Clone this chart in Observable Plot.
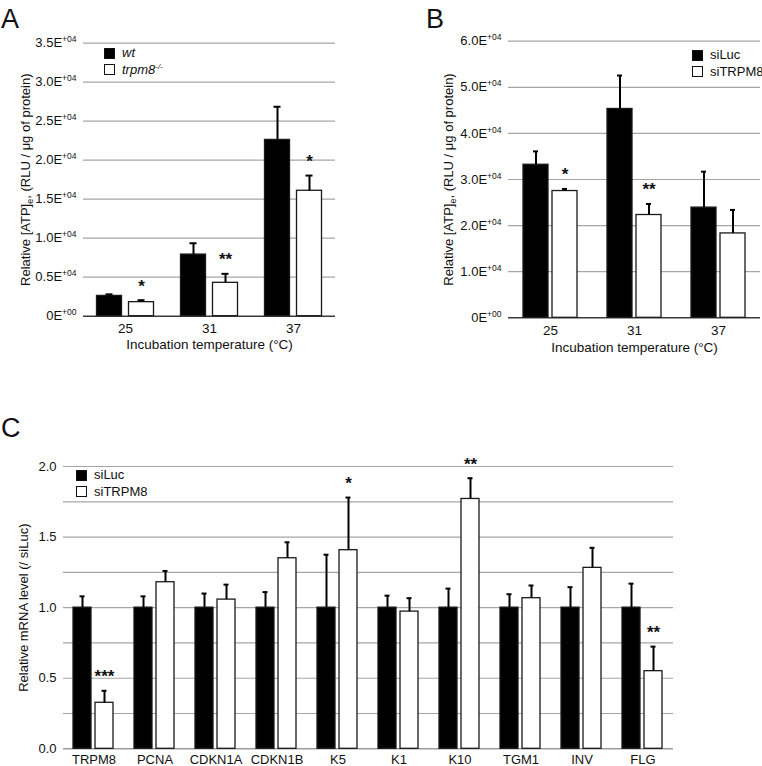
<!DOCTYPE html>
<html>
<head>
<meta charset="utf-8">
<script src="https://cdn.jsdelivr.net/npm/d3@7"></script>
<script src="https://cdn.jsdelivr.net/npm/@observablehq/plot@0.6"></script>
<style>
  body { margin: 0; background: #fff; font-family: "Liberation Sans", Arial, Helvetica, sans-serif; color: #111; }
  #root { position: relative; width: 762px; height: 766px; overflow: hidden; }
  .panel { position: absolute; }
  .letter { position: absolute; font-size: 27px; line-height: 1; }
  .legend { position: absolute; font-size: 13px; line-height: 16.5px; z-index: 2; }
  .legend .row { display: flex; align-items: center; height: 16.5px; white-space: nowrap; }
  .sw { box-sizing: border-box; width: 11px; height: 11px; border: 1px solid #111; margin-right: 7px; }
  .sw.black { background: #000; }
  .sw.white { background: #fff; }
  .legend sup { font-size: 8px; vertical-align: 5px; line-height: 0; }
</style>
</head>
<body>
<div id="root"></div>
<script>
const FONT = '"Liberation Sans", Arial, Helvetica, sans-serif';

// ---------- Panel A data ----------
const tempLabels = ["25", "31", "37"];
const genotypeGroups = ["wt", "trpm8-/-"];
const wtMean = [2600, 7900, 22600];
const wtSD = [200, 1450, 4250];
const koMean = [1800, 4280, 16080];
const koSD = [250, 1150, 1950];
const sigA = ["*", "**", "*"];
const yTicksA = [0, 5000, 10000, 15000, 20000, 25000, 30000, 35000];

// ---------- Panel B data ----------
const siGroups = ["siLuc", "siTRPM8"];
const bLucMean = [33200, 45300, 23900];
const bLucSD = [2900, 7250, 7800];
const bTrpMean = [27500, 22300, 18300];
const bTrpSD = [450, 2400, 5100];
const sigB = ["*", "**", ""];
const yTicksB = [0, 10000, 20000, 30000, 40000, 50000, 60000];

// ---------- Panel C data ----------
const genes = ["TRPM8", "PCNA", "CDKN1A", "CDKN1B", "K5", "K1", "K10", "TGM1", "INV", "FLG"];
const cLucMean = [1, 1, 1, 1, 1, 1, 1, 1, 1, 1];
const cLucSD = [0.08, 0.08, 0.10, 0.11, 0.375, 0.085, 0.135, 0.095, 0.145, 0.17];
const cTrpMean = [0.326, 1.18, 1.057, 1.35, 1.407, 0.972, 1.77, 1.067, 1.282, 0.55];
const cTrpSD = [0.085, 0.08, 0.106, 0.113, 0.373, 0.095, 0.147, 0.09, 0.142, 0.174];
const sigC = ["***", "", "", "", "*", "", "**", "", "", "**"];
const yTicksC = [0, 0.5, 1.0, 1.5, 2.0];
const gridC = [0.25, 0.5, 0.75, 1.0, 1.25, 1.5, 1.75, 2.0];

function rows(cats, groups, m1, s1, m2, s2, sig) {
  return cats.flatMap((c, i) => [
    {cat: c, group: groups[0], mean: m1[i], top: m1[i] + s1[i], sig: ""},
    {cat: c, group: groups[1], mean: m2[i], top: m2[i] + s2[i], sig: sig[i]}
  ]);
}

const sciFmt = d => d === 0 ? "0E+00" : (d / 1e4).toFixed(1) + "E+04";

function panel(o) {
  const data = rows(o.cats, o.groups, o.m1, o.s1, o.m2, o.s2, o.sig);
  const marks = [
    Plot.ruleY(o.grid, {stroke: "#a6a6a6", strokeWidth: 1.2}),
    Plot.ruleY([0], {stroke: o.baseStroke, strokeWidth: o.baseWidth}),
    Plot.barY(data, {fx: "cat", x: "group", y: "mean",
      fill: d => d.group === o.groups[0] ? "#000" : "#fff", stroke: "#1a1a1a", strokeWidth: 1.3}),
    Plot.ruleX(data, {fx: "cat", x: "group", y1: "mean", y2: "top", stroke: "#000", strokeWidth: 2}),
    Plot.tickY(data, {fx: "cat", x: "group", y: "top", stroke: "#000", strokeWidth: 2,
      insetLeft: o.cap, insetRight: o.cap}),
    Plot.text(data.filter(d => d.sig), {fx: "cat", x: "group", y: "top", text: "sig",
      dy: -14, fontSize: 17, fontWeight: "bold", fill: "#111"}),
    Plot.axisY({ticks: o.yTicks, tickSize: 0, tickPadding: 7, tickFormat: o.fmt,
      label: o.yLabel, labelAnchor: "center", labelArrow: "none", labelOffset: o.ylo, fontSize: 13}),
    Plot.axisFx({anchor: "bottom", tickSize: 0, tickPadding: o.xtp, label: o.xLabel, labelAnchor: "center",
      labelArrow: "none", labelOffset: o.xlo, fontSize: o.xfs})
  ];
  if (o.axisLine) {
    marks.push(Plot.axisY({ticks: o.yTicks, tickSize: 0, tickFormat: () => "", line: true,
      stroke: "#9c9c9c", strokeWidth: 1.4, label: null}));
  }
  const svg = Plot.plot({
    width: o.width, height: o.height,
    marginLeft: o.ml, marginRight: o.mr, marginTop: o.mt, marginBottom: o.mb,
    style: {fontFamily: FONT, fontSize: "13px", color: "#111", background: "transparent", overflow: "visible"},
    fx: {domain: o.cats, padding: 0},
    x: {domain: o.groups, paddingInner: o.pi, paddingOuter: o.po, axis: null},
    y: {domain: o.yDomain},
    marks
  });
  if (o.sup) {
    svg.querySelectorAll('g[aria-label="y-axis tick label"] text').forEach(t => {
      const s = t.textContent;
      if (!s || s.indexOf("E") < 0) return;
      const k = s.indexOf("E") + 1;
      t.textContent = "";
      const a = document.createElementNS("http://www.w3.org/2000/svg", "tspan");
      a.textContent = s.slice(0, k);
      const b = document.createElementNS("http://www.w3.org/2000/svg", "tspan");
      b.textContent = s.slice(k);
      b.setAttribute("font-size", "8.5");
      b.setAttribute("dy", "-5");
      t.appendChild(a); t.appendChild(b);
    });
  }
  if (o.subLabel) {
    const t = svg.querySelector('g[aria-label="y-axis label"] text');
    if (t) {
      t.textContent = "";
      const parts = [["Relative [ATP]", null], ["e", 3], [", (RLU / μg of protein)", -3]];
      parts.forEach(([txt, dy]) => {
        const sp = document.createElementNS("http://www.w3.org/2000/svg", "tspan");
        sp.textContent = txt;
        if (dy !== null) sp.setAttribute("dy", dy);
        if (txt === "e") sp.setAttribute("font-size", "9");
        t.appendChild(sp);
      });
    }
  }
  return svg;
}

const root = document.getElementById("root");
function place(el, left, top) {
  const d = document.createElement("div");
  d.className = "panel";
  d.style.left = left + "px";
  d.style.top = top + "px";
  d.appendChild(el);
  root.appendChild(d);
}
function letter(txt, left, top) {
  const d = document.createElement("div");
  d.className = "letter";
  d.textContent = txt;
  d.style.left = left + "px";
  d.style.top = top + "px";
  root.appendChild(d);
}
function legend(items, left, top) {
  const d = document.createElement("div");
  d.className = "legend";
  d.style.left = left + "px";
  d.style.top = top + "px";
  items.forEach(([html, color, italic]) => {
    const r = document.createElement("div");
    r.className = "row";
    const sw = document.createElement("div");
    sw.className = "sw " + color;
    const lab = document.createElement("span");
    lab.innerHTML = html;
    if (italic) lab.style.fontStyle = "italic";
    r.appendChild(sw); r.appendChild(lab);
    d.appendChild(r);
  });
  root.appendChild(d);
}

// Panel A
place(panel({
  cats: tempLabels, groups: genotypeGroups, m1: wtMean, s1: wtSD, m2: koMean, s2: koSD, sig: sigA,
  width: 380, height: 360, ml: 82.5, mr: 45.5, mt: 42.7, mb: 44.3,
  pi: 0.21875, po: 0.421875, cap: 9,
  yDomain: [0, 35000], yTicks: yTicksA, grid: yTicksA.slice(1), fmt: sciFmt, sup: true,
  yLabel: "Relative [ATP]e, (RLU / μg of protein)", subLabel: true, ylo: 63,
  xLabel: "Incubation temperature (°C)", xtp: 7.5, xlo: 33, xfs: 13.5,
  baseStroke: "#3a3a3a", baseWidth: 1.6, axisLine: false
}), 0, 0);

// Panel B
place(panel({
  cats: tempLabels, groups: siGroups, m1: bLucMean, s1: bLucSD, m2: bTrpMean, s2: bTrpSD, sig: sigB,
  width: 382, height: 360, ml: 128, mr: 2, mt: 40.7, mb: 42.7,
  pi: 0.1333, po: 0.4667, cap: 10,
  yDomain: [0, 60000], yTicks: yTicksB, grid: yTicksB.slice(1), fmt: sciFmt, sup: true,
  yLabel: "Relative [ATP]e, (RLU / μg of protein)", subLabel: true, ylo: 65,
  xLabel: "Incubation temperature (°C)", xtp: 7.5, xlo: 34.5, xfs: 13.5,
  baseStroke: "#3a3a3a", baseWidth: 1.6, axisLine: false
}), 380, 0);

// Panel C
place(panel({
  cats: genes, groups: siGroups, m1: cLucMean, s1: cLucSD, m2: cTrpMean, s2: cTrpSD, sig: sigC,
  width: 762, height: 366, ml: 61, mr: 87, mt: 66, mb: 17.7,
  pi: 0.174, po: 0.4215, cap: 6.5,
  yDomain: [0, 2], yTicks: yTicksC, grid: gridC, fmt: d => d.toFixed(1), sup: false,
  yLabel: "Relative mRNA level (/ siLuc)", subLabel: false, ylo: 45,
  xLabel: null, xtp: 6, xlo: 0, xfs: 13,
  baseStroke: "#9c9c9c", baseWidth: 1.4, axisLine: true
}), 0, 400);

letter("A", 1, 6);
letter("B", 426, 6);
letter("C", 1, 415);

legend([["wt", "black", true], ["trpm8<sup>-/-</sup>", "white", true]], 104, 45);
legend([["siLuc", "black", false], ["siTRPM8", "white", false]], 692, 47);
legend([["siLuc", "black", false], ["siTRPM8", "white", false]], 76, 467);
</script>
</body>
</html>
